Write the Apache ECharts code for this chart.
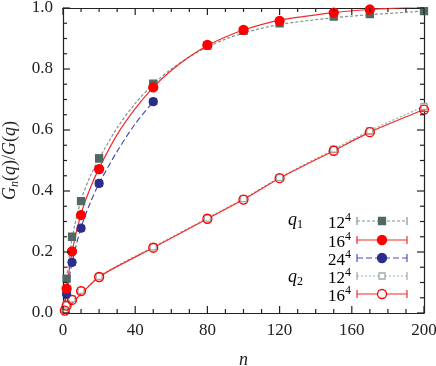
<!DOCTYPE html>
<html>
<head>
<meta charset="utf-8">
<script src="https://cdn.jsdelivr.net/npm/echarts@6/dist/echarts.min.js"></script>
<style>
  html, body { margin: 0; padding: 0; background: #fff; }
  #chart { width: 436px; height: 366px; }
</style>
</head>
<body>
<div id="chart"></div>
<script>
const nQ1 = [2, 5, 10, 20, 50, 80, 100, 120, 150, 170, 200]
const q1L12 = [0.113, 0.250, 0.367, 0.507, 0.752, 0.877, 0.925, 0.950, 0.972, 0.980, 0.990]
const q1L12Err = [0.007, 0.008, 0.010, 0.012, 0.010, 0.008, 0.008, 0.008, 0.008, 0.008, 0.006]

const nQ1L16 = [2, 5, 10, 20, 50, 80, 100, 120, 150, 170]
const q1L16 = [0.080, 0.202, 0.321, 0.472, 0.740, 0.879, 0.928, 0.958, 0.985, 0.995]
const q1L16Err = [0.007, 0.008, 0.010, 0.011, 0.010, 0.008, 0.008, 0.008, 0.007, 0.006]

const nQ1L24 = [2, 5, 10, 20, 50]
const q1L24 = [0.062, 0.166, 0.278, 0.425, 0.693]
const q1L24Err = [0.006, 0.008, 0.009, 0.010, 0.009]

const nQ2 = [1, 2, 5, 10, 20, 50, 80, 100, 120, 150, 170, 200]
const q2L12 = [0.010, 0.026, 0.046, 0.074, 0.120, 0.217, 0.311, 0.375, 0.444, 0.537, 0.598, 0.677]
const q2L16 = [0.008, 0.024, 0.043, 0.072, 0.118, 0.214, 0.309, 0.372, 0.442, 0.532, 0.593, 0.667]
const q2Err = [0.004, 0.004, 0.005, 0.005, 0.006, 0.006, 0.006, 0.006, 0.006, 0.006, 0.006, 0.006]

// fit curves
const fitN = [0, 2, 5, 10, 15, 20, 30, 40, 50, 60, 70, 80, 90, 100, 120, 150, 170, 185, 200]
const fitQ1L12 = [0, 0.110, 0.245, 0.370, 0.447, 0.506, 0.607, 0.687, 0.750, 0.800, 0.840, 0.872, 0.898, 0.918, 0.946, 0.968, 0.978, 0.984, 0.990]
const fitQ1L16 = [0, 0.080, 0.200, 0.325, 0.408, 0.475, 0.585, 0.670, 0.740, 0.795, 0.840, 0.877, 0.905, 0.928, 0.960, 0.985, 0.995, 1.0, 1.004]
const fitNL24 = [0, 2, 5, 10, 15, 20, 30, 40, 50]
const fitQ1L24 = [0, 0.064, 0.165, 0.280, 0.360, 0.425, 0.530, 0.620, 0.693]
const fitNQ2 = [0, 20, 50, 80, 100, 120, 150, 170, 200]
const fitQ2L12 = [0, 0.120, 0.217, 0.311, 0.375, 0.444, 0.537, 0.598, 0.677]
const fitQ2L16 = [0, 0.118, 0.214, 0.309, 0.372, 0.442, 0.532, 0.593, 0.667]

// axis ticks (major ones carry labels)
const xMajor = [0, 40, 80, 120, 160, 200]
const xMinor = [10, 20, 30, 50, 60, 70, 90, 100, 110, 130, 140, 150, 170, 180, 190]
const yMajor = [0, 0.2, 0.4, 0.6, 0.8, 1.0]
const yMinor = [0.05, 0.1, 0.15, 0.25, 0.3, 0.35, 0.45, 0.5, 0.55, 0.65, 0.7, 0.75, 0.85, 0.9, 0.95]
const xRange = [0, 200]
const yRange = [0, 1]

const FONT = 'Liberation Serif'
const C_GREY = '#4f6a64'
const C_GREY_LINE = '#7d948f'
const C_GREY_LIGHT = '#9aaca8'
const C_RED = '#ff0000'
const C_RED_LINE = '#f32a2a'
const C_BLUE = '#2b2d8c'
const C_BLUE_LINE = '#4a4fb8'
const AX = '#222'

const pairs = (xs, ys) => xs.map((x, i) => [x, ys[i]])

const fitLine = (xs, ys, color, type, smooth) => ({
  type: 'line',
  data: pairs(xs, ys),
  smooth: smooth,
  showSymbol: false,
  silent: true,
  z: 2,
  lineStyle: { color: color, width: 1.2, type: type }
})

const points = (xs, ys, symbol, size, fill, stroke) => ({
  type: 'scatter',
  data: pairs(xs, ys),
  symbol: symbol,
  symbolSize: size,
  z: 4,
  itemStyle: { color: fill, borderColor: stroke, borderWidth: 1.3, opacity: 1 }
})

const makeAxis = (extra) => Object.assign({
  type: 'value',
  axisLine: { show: true, onZero: false, lineStyle: { color: AX, width: 1.2 } },
  axisTick: { show: false },
  splitLine: { show: false }
}, extra)

// legend rows (drawn by hand to show error-bar style samples)
const legendRows = [
  { y: 221, label: '12', color: C_GREY_LINE, dash: [3, 2], marker: 'rect', fill: C_GREY, stroke: C_GREY },
  { y: 240, label: '16', color: C_RED_LINE, dash: null, marker: 'circle', fill: C_RED, stroke: C_RED },
  { y: 258, label: '24', color: C_BLUE_LINE, dash: [6, 3], marker: 'circle', fill: C_BLUE, stroke: C_BLUE },
  { y: 276, label: '12', color: C_GREY_LIGHT, dash: [2, 2], marker: 'orect', fill: '#fff', stroke: C_GREY_LIGHT },
  { y: 294, label: '16', color: C_RED_LINE, dash: null, marker: 'ocircle', fill: '#fff', stroke: C_RED }
]

const graphics = []
const supRich = {
  b: { fontFamily: FONT, fontSize: 17, color: AX, lineHeight: 20, verticalAlign: 'bottom' },
  s: { fontFamily: FONT, fontSize: 12, color: AX, lineHeight: 20, verticalAlign: 'top' }
}
legendRows.forEach(r => {
  const x1 = 357, x2 = 407, xm = 382
  graphics.push({ type: 'line', shape: { x1: x1, y1: r.y, x2: x2, y2: r.y }, style: { stroke: r.color, lineWidth: 1.2, lineDash: r.dash } })
  graphics.push({ type: 'line', shape: { x1: x1, y1: r.y - 4, x2: x1, y2: r.y + 4 }, style: { stroke: r.color, lineWidth: 1.2 } })
  graphics.push({ type: 'line', shape: { x1: x2, y1: r.y - 4, x2: x2, y2: r.y + 4 }, style: { stroke: r.color, lineWidth: 1.2 } })
  if (r.marker === 'rect' || r.marker === 'orect') {
    const s = r.marker === 'rect' ? 7 : 6
    graphics.push({ type: 'rect', shape: { x: xm - s / 2, y: r.y - s / 2, width: s, height: s }, style: { fill: r.fill, stroke: r.stroke, lineWidth: 1.3 } })
  } else {
    graphics.push({ type: 'circle', shape: { cx: xm, cy: r.y, r: 4.5 }, style: { fill: r.fill, stroke: r.stroke, lineWidth: 1.3 } })
  }
  graphics.push({
    type: 'text', x: 351, y: r.y + 1,
    style: { text: '{b|' + r.label + '}{s|4}', rich: supRich, align: 'right', verticalAlign: 'middle' }
  })
})
const qRich = {
  i: { fontFamily: FONT, fontStyle: 'italic', fontSize: 18, color: AX, lineHeight: 20, verticalAlign: 'top' },
  u: { fontFamily: FONT, fontSize: 12, color: AX, lineHeight: 20, verticalAlign: 'bottom' }
}
graphics.push({ type: 'text', x: 288, y: 221, style: { text: '{i|q}{u|1}', rich: qRich, verticalAlign: 'middle' } })
graphics.push({ type: 'text', x: 288, y: 278, style: { text: '{i|q}{u|2}', rich: qRich, verticalAlign: 'middle' } })

const chart = echarts.init(document.getElementById('chart'), null, { renderer: 'canvas' })
chart.setOption({
  animation: false,
  backgroundColor: '#fff',
  grid: { left: 63, right: 12, top: 8, bottom: 53, containLabel: false, outerBoundsMode: 'none' },
  xAxis: [
    makeAxis({
      position: 'bottom', min: xRange[0], max: xRange[1], interval: 40,
      name: 'n', nameLocation: 'middle', nameGap: 38,
      nameTextStyle: { fontFamily: FONT, fontStyle: 'italic', fontSize: 18, color: AX },
      axisLabel: { fontFamily: FONT, fontSize: 17, color: AX, margin: 9 }
    }),
    makeAxis({
      position: 'top', min: xRange[0], max: xRange[1], interval: 40,
      axisLabel: { show: false }
    })
  ],
  yAxis: [
    makeAxis({
      position: 'left', min: yRange[0], max: yRange[1], interval: 0.2,
      name: '{i|G}{u|n}{r|(}{i|q}{r|)/}{i|G}{r|(}{i|q}{r|)}', nameLocation: 'middle', nameGap: 37, nameRotate: 90,
      nameTextStyle: {
        rich: {
          i: { fontFamily: FONT, fontStyle: 'italic', fontSize: 18, color: AX, lineHeight: 22, verticalAlign: 'middle' },
          r: { fontFamily: FONT, fontSize: 18, color: AX, lineHeight: 22, verticalAlign: 'middle' },
          u: { fontFamily: FONT, fontStyle: 'italic', fontSize: 12, color: AX, lineHeight: 22, verticalAlign: 'bottom' }
        }
      },
      axisLabel: { fontFamily: FONT, fontSize: 17, color: AX, margin: 10, formatter: v => v.toFixed(1) }
    }),
    makeAxis({
      position: 'right', min: yRange[0], max: yRange[1], interval: 0.2,
      axisLabel: { show: false }
    })
  ],
  series: [
    // q2
    fitLine(fitNQ2, fitQ2L12, C_GREY_LIGHT, [2, 2], 0.2),
    fitLine(fitNQ2, fitQ2L16, C_RED_LINE, 'solid', 0.2),
    points(nQ2, q2L12, 'rect', 6, '#fff', C_GREY_LIGHT),
    points(nQ2, q2L16, 'circle', 9, 'rgba(255,255,255,0)', C_RED),
    // q1
    fitLine(fitN, fitQ1L12, C_GREY_LINE, [3, 2], 0.3),
    fitLine(fitNL24, fitQ1L24, C_BLUE_LINE, [6, 3], 0.3),
    fitLine(fitN, fitQ1L16, C_RED_LINE, 'solid', 0.3),
    points(nQ1, q1L12, 'rect', 7, C_GREY, C_GREY),
    points(nQ1L24, q1L24, 'circle', 8, C_BLUE, C_BLUE),
    points(nQ1L16, q1L16, 'circle', 9, C_RED, C_RED)
  ]
})

// error bars and inward frame ticks, placed through the chart's own scales
const px = (x, y) => chart.convertToPixel({ xAxisIndex: 0, yAxisIndex: 0 }, [x, y])
const seg = (a, b, color, z) => ({
  type: 'line', z: z, silent: true,
  shape: { x1: a[0], y1: a[1], x2: b[0], y2: b[1] },
  style: { stroke: color, lineWidth: 1.2 }
})
const addErrorBars = (xs, ys, errs, color) => {
  xs.forEach((x, i) => {
    const lo = px(x, ys[i] - errs[i])
    const hi = px(x, ys[i] + errs[i])
    const w = 4
    graphics.push(seg(lo, hi, color, 3))
    graphics.push(seg([lo[0] - w, lo[1]], [lo[0] + w, lo[1]], color, 3))
    graphics.push(seg([hi[0] - w, hi[1]], [hi[0] + w, hi[1]], color, 3))
  })
}
addErrorBars(nQ2, q2L12, q2Err, C_GREY_LIGHT)
addErrorBars(nQ2, q2L16, q2Err, C_RED_LINE)
addErrorBars(nQ1, q1L12, q1L12Err, C_GREY_LINE)
addErrorBars(nQ1L24, q1L24, q1L24Err, C_BLUE_LINE)
addErrorBars(nQ1L16, q1L16, q1L16Err, '#ff5050')

const addXTicks = (vals, len) => vals.forEach(v => {
  const a = px(v, yRange[0]), b = px(v, yRange[1])
  graphics.push(seg(a, [a[0], a[1] - len], AX, 10))
  graphics.push(seg(b, [b[0], b[1] + len], AX, 10))
})
const addYTicks = (vals, len) => vals.forEach(v => {
  const a = px(xRange[0], v), b = px(xRange[1], v)
  graphics.push(seg(a, [a[0] + len, a[1]], AX, 10))
  graphics.push(seg(b, [b[0] - len, b[1]], AX, 10))
})
addXTicks(xMajor, 7)
addXTicks(xMinor, 4)
addYTicks(yMajor, 7)
addYTicks(yMinor, 4)

chart.setOption({ graphic: graphics })
</script>
</body>
</html>
